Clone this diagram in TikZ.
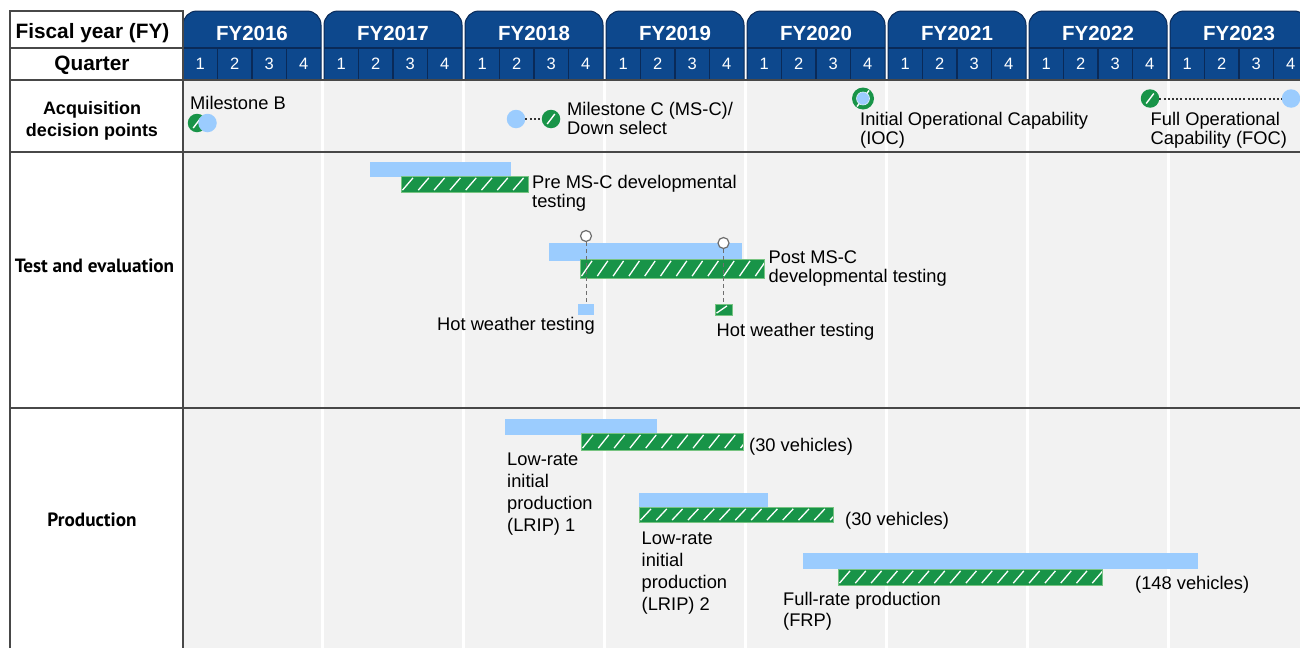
\documentclass[tikz,border=0pt]{standalone}
\usepackage{fontspec}
\setmainfont{Liberation Sans}
\newfontfamily\myriad{PT Sans}
\usetikzlibrary{calc}
\definecolor{navy}{RGB}{13,72,141}
\definecolor{navyline}{RGB}{10,42,88}
\definecolor{lblue}{RGB}{155,204,254}
\definecolor{dgreen}{RGB}{24,148,72}
\definecolor{lgreen}{RGB}{120,196,130}
\definecolor{bodygray}{RGB}{242,242,242}
\definecolor{rulegray}{RGB}{72,72,72}
\definecolor{dotgray}{RGB}{110,110,110}
\begin{document}
\begin{tikzpicture}[x=1pt,y=-1pt,
  txt/.style={font=\fontsize{18.3}{19}\selectfont, inner sep=0pt, align=left, anchor=north west},
  hdr/.style={font=\bfseries\fontsize{20.8}{22}\selectfont, inner sep=0pt},
  rowlbl/.style={font=\bfseries\fontsize{18}{22}\selectfont, inner sep=0pt, align=center},
  rowlblb/.style={font=\myriad\bfseries\fontsize{19.2}{21}\selectfont, inner sep=0pt},
  yearlbl/.style={font=\bfseries\fontsize{20.5}{22}\selectfont, text=white, inner sep=0pt},
  qlbl/.style={font=\fontsize{16.5}{18}\selectfont, text=white, inner sep=0pt},
  rulel/.style={draw=rulegray, line width=1.6pt},
  slash/.style={path picture={\draw[white, line width=1.4pt]
     ($(path picture bounding box.center)+(-3.8pt,-5pt)$) -- ($(path picture bounding box.center)+(3.8pt,5pt)$);}},
  bluedot/.style={circle, fill=lblue, inner sep=0pt, minimum size=18.5pt},
  greendot/.style={circle, fill=dgreen, inner sep=0pt, minimum size=18.5pt, slash},
  hollow/.style={circle, draw=dotgray, fill=white, line width=1.2pt, inner sep=0pt, minimum size=11pt},
  dotline/.style={draw=black!80, line width=2pt, dash pattern=on 2pt off 2.2pt},
  dashline/.style={draw=dotgray, line width=1pt, dash pattern=on 4pt off 3pt},
  bluebar/.style={fill=lblue},
  hatch/.style={fill=dgreen, draw=lgreen, line width=0.7pt, path picture={
     \foreach \k [evaluate=\k as \xa using \k*15.8+1.5, evaluate=\k as \xb using \k*15.8+12] in {0,...,18}{
       \draw[white, line width=1.3pt]
         ([xshift=\xa pt, yshift=1.9pt]path picture bounding box.south west) --
         ([xshift=\xb pt, yshift=-1.9pt]path picture bounding box.north west);}}},
  smallbox/.style={inner sep=0pt, minimum width=16pt, minimum height=11pt}
]
\useasboundingbox (0,0) rectangle (1300,648);
\clip (0,0) rectangle (1300,648);
\fill[white] (0,0) rectangle (1300,648);

% year columns, tabs
\foreach \i/\yr in {0/2016,1/2017,2/2018,3/2019,4/2020,5/2021,6/2022,7/2023}{
  \pgfmathsetmacro\s{183+141*\i}
  \fill[bodygray] (\s,80) rectangle (\s+138,648);
  \filldraw[fill=navy, draw=navyline, line width=1pt]
    (\s,80) -- (\s,25) arc[start angle=180, end angle=90, radius=14pt]
    -- (\s+124,11) arc[start angle=90, end angle=0, radius=14pt] -- (\s+138,80) -- cycle;
  \draw[navyline, line width=1.2pt] (\s,48) -- (\s+138,48);
  \foreach \q in {1,2,3}{\draw[navyline, line width=1.2pt] (\s+34.5*\q,48) -- (\s+34.5*\q,80);}
  \node[yearlbl] (fy\yr) at (\s+69,33.5) {FY\yr};
  \foreach \q in {1,2,3,4}{\node[qlbl] (q\yr\q) at (\s+34.5*\q-17.25,64) {\q};}
}

% rules
\draw[rulel] (10,80) -- (1300,80);
\draw[rulel] (10,152) -- (1300,152);
\draw[rulel] (10,408) -- (1300,408);
\draw[rulel] (10,648) -- (10,11) -- (183,11) -- (183,648);
\draw[rulel] (10,48) -- (183,48);

% left column labels
\node[hdr] (fylbl) at (92.5,33) {Fiscal year (FY)};
\node[hdr] (qlbl) at (92,65) {Quarter};
\node[rowlbl] (adp) at (92,120.5) {Acquisition\\decision points};
\node[rowlblb] (te) at (94.5,266) {Test and evaluation};
\node[rowlblb] (prod) at (92,520) {Production};

% acquisition decision points
\node[txt] (msbt) at (190,96) {Milestone B};
\node[greendot] (msbg) at (197,123) {};
\node[bluedot] (msbb) at (207.5,123) {};

\node[bluedot] (mscb) at (516,119) {};
\node[greendot] (mscg) at (551,119) {};
\draw[dotline] (mscb) -- (mscg);
\node[txt] (msct) at (567,102.5) {Milestone C (MS-C)/\\Down select};

\node[circle, fill=dgreen, inner sep=0pt, minimum size=22pt, path picture={\draw[white, line width=1.4pt]
   ($(path picture bounding box.center)+(-6pt,-8pt)$) -- ($(path picture bounding box.center)+(6pt,8pt)$);}] (iocg) at (863,98.5) {};
\node[circle, fill=lblue, draw=white!70!lblue, line width=0.6pt, inner sep=0pt, minimum size=13pt] (iocb) at (863,98.5) {};
\node[txt] (ioct) at (860,112.5) {Initial Operational Capability\\(IOC)};

\node[greendot] (focg) at (1150,98.5) {};
\node[bluedot] (focb) at (1291,98.5) {};
\draw[dotline] (focg) -- (focb);
\node[txt] (foct) at (1150.5,112.3) {Full Operational\\Capability (FOC)};

% test and evaluation
\fill[bluebar] (370,161.5) rectangle (511,177);
\path[hatch] (401,176) rectangle (528,192);
\node[txt] (pret) at (532,175) {Pre MS-C developmental\\testing};

\fill[bluebar] (549,243) rectangle (742,261);
\path[hatch] (580,259) rectangle (764,278);
\node[txt] (postt) at (768.5,250.5) {Post MS-C\\developmental testing};

\node[hollow] (hw1c) at (586,236) {};
\node[hollow] (hw2c) at (723.5,243) {};
\node[smallbox, fill=lblue] (hw1) at (586,309.5) {};
\node[smallbox, hatch, minimum width=17pt] (hw2) at (723.5,309.5) {};
\draw[dashline] (hw1c) -- (hw1);
\draw[dashline] (hw2c) -- (hw2);
\node[txt] (hw1t) at (437,317.5) {Hot weather testing};
\node[txt] (hw2t) at (716.5,323) {Hot weather testing};

% production
\fill[bluebar] (505,419) rectangle (657,435);
\path[hatch] (581,433) rectangle (743,450);
\node[txt] (l1v) at (749,438) {(30 vehicles)};
\node[txt, font=\fontsize{18.3}{22}\selectfont] (l1t) at (507,453) {Low-rate\\initial\\production\\(LRIP) 1};

\fill[bluebar] (639,493) rectangle (768,507);
\path[hatch] (639,507) rectangle (833,522);
\node[txt] (l2v) at (845,511.7) {(30 vehicles)};
\node[txt, font=\fontsize{18.3}{22}\selectfont] (l2t) at (641.5,532) {Low-rate\\initial\\production\\(LRIP) 2};

\fill[bluebar] (803,553) rectangle (1198,569);
\path[hatch] (838,569) rectangle (1102,585);
\node[txt] (frpv) at (1135,576) {(148 vehicles)};
\node[txt, font=\fontsize{18.3}{21}\selectfont] (frpt) at (783,592) {Full-rate production\\(FRP)};
\end{tikzpicture}
\end{document}
